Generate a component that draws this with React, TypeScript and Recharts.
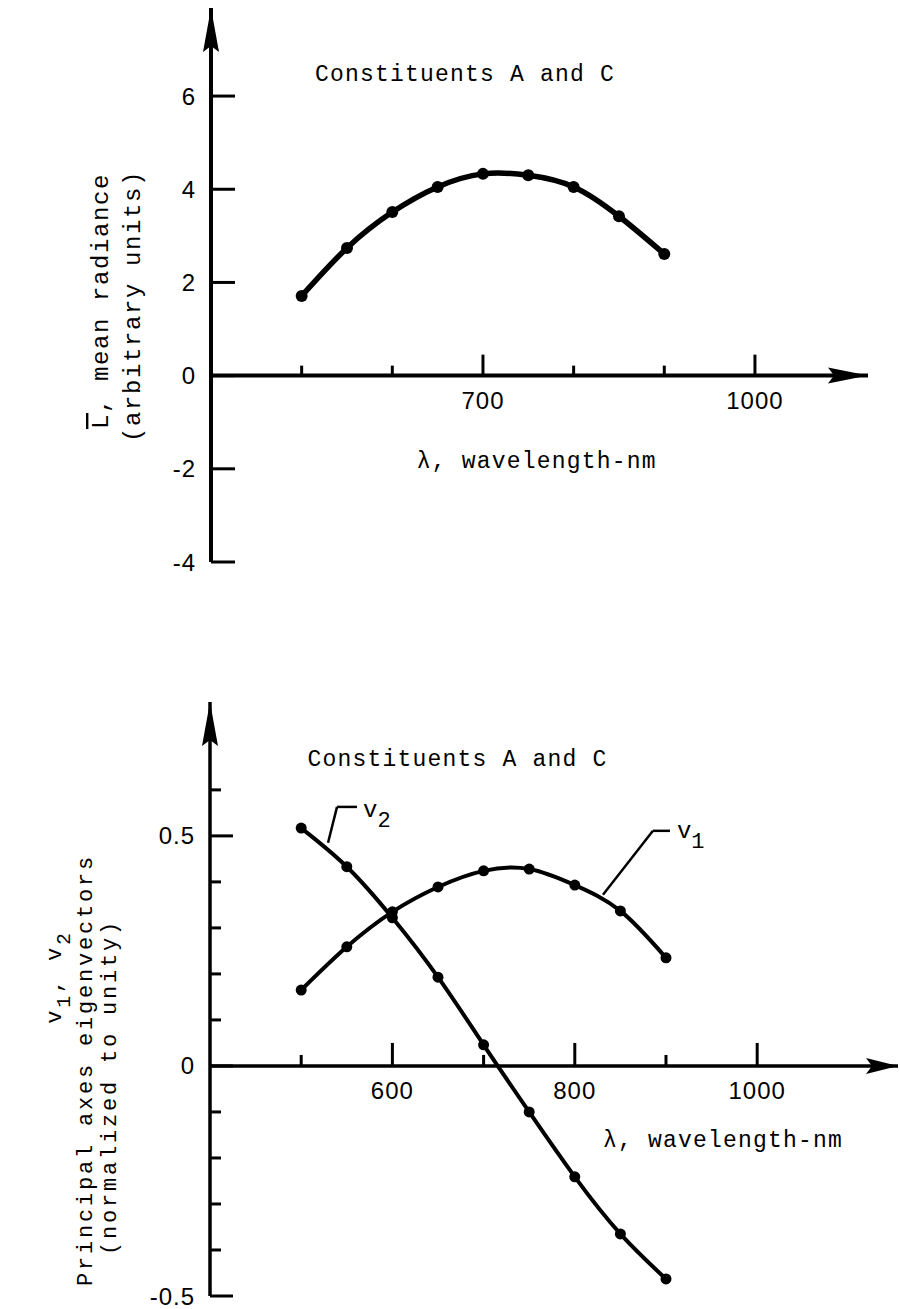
import React from "react";
import { LineChart, Line, XAxis, YAxis, ReferenceLine, ReferenceDot } from "recharts";

const wavelengths = [500, 550, 600, 650, 700, 750, 800, 850, 900];
const meanRadiance = [1.71, 2.74, 3.51, 4.05, 4.33, 4.3, 4.05, 3.42, 2.61];
const v1Values = [0.165, 0.259, 0.335, 0.389, 0.424, 0.428, 0.393, 0.337, 0.235];
const v2Values = [0.517, 0.433, 0.322, 0.193, 0.046, -0.1, -0.241, -0.365, -0.463];

const topYTicks = [-4, -2, 0, 2, 4, 6];
const topXTicks = [500, 600, 700, 800, 900, 1000];
const topXLabels = [700, 1000];
const bottomYTicks = [-0.5, -0.4, -0.3, -0.2, -0.1, 0, 0.1, 0.2, 0.3, 0.4, 0.5, 0.6];
const bottomYLabels = [-0.5, 0, 0.5];
const bottomXTicks = [500, 600, 700, 800, 900, 1000];
const bottomXLabels = [600, 800, 1000];

const topData = wavelengths.map((w, i) => ({ w, L: meanRadiance[i] }));
const bottomData = wavelengths.map((w, i) => ({ w, v1: v1Values[i], v2: v2Values[i] }));

const MONO = '"Liberation Mono", "DejaVu Sans Mono", monospace';
const SANS = '"Liberation Sans", Arial, sans-serif';
const has = (arr: number[], v: number) => arr.some((a) => Math.abs(a - v) < 1e-9);

// y ticks drawn inside the axis (to the right), label on the left
const yTick = (labels: number[], major: number, minor: number, sw: number) => (p: any) => {
  const v = p.payload.value;
  const lab = has(labels, v);
  return (
    <g>
      <line x1={p.x} x2={p.x + (lab ? major : minor)} y1={p.y} y2={p.y} stroke="#000" strokeWidth={sw} />
      {lab && (
        <text x={p.x - 15} y={p.y} textAnchor="end" dominantBaseline="central"
          fontFamily={SANS} fontSize={24} letterSpacing={1} fill="#000">
          {v < 0 ? "-" + Math.abs(v) : String(v)}
        </text>
      )}
    </g>
  );
};

// x ticks sit on the y=0 line, pointing up
const xTick = (len: number, label: string | null, sw: number) => (p: any) => (
  <g>
    <line x1={p.cx} x2={p.cx} y1={p.cy} y2={p.cy - len} stroke="#000" strokeWidth={sw} />
    {label && (
      <text x={p.cx} y={p.cy + 25} textAnchor="middle" dominantBaseline="central"
        fontFamily={SANS} fontSize={24} letterSpacing={1} fill="#000">
        {label}
      </text>
    )}
  </g>
);

const arrowRight = (len: number, half: number) => (p: any) => (
  <polygon points={`${p.cx},${p.cy} ${p.cx - len},${p.cy - half} ${p.cx - len + 6},${p.cy} ${p.cx - len},${p.cy + half}`} fill="#000" />
);
const arrowUp = (len: number, half: number) => (p: any) => (
  <polygon points={`${p.cx},${p.cy} ${p.cx - half},${p.cy + len} ${p.cx},${p.cy + len - 6} ${p.cx + half},${p.cy + len}`} fill="#000" />
);

const textAt = (content: React.ReactNode, size = 24, spacing = 1.4) => (p: any) => (
  <text x={p.cx} y={p.cy} dominantBaseline="central" fontFamily={MONO} fontSize={size}
    letterSpacing={spacing} fill="#000">
    {content}
  </text>
);

const vLabel = (sub: string) => (p: any) => (
  <text x={p.cx} y={p.cy} fontFamily={MONO} fontSize={24} fill="#000">
    v<tspan dy={10} fontSize={22}>{sub}</tspan>
  </text>
);

const TopYLabel = (props: any) => {
  const vb = props.viewBox;
  const ax = vb.x + vb.width;
  const cy = vb.y + 293;
  return (
    <g fontFamily={MONO} fontSize={24} letterSpacing={1.6} fill="#000">
      <text transform={`translate(${ax - 103},${cy}) rotate(-90)`} textAnchor="middle">
        <tspan textDecoration="overline">L</tspan>, mean radiance
      </text>
      <text transform={`translate(${ax - 71},${cy + 5}) rotate(-90)`} textAnchor="middle">(arbitrary units)</text>
    </g>
  );
};

const BottomYLabel = (props: any) => {
  const vb = props.viewBox;
  const ax = vb.x + vb.width;
  const top = vb.y; // plot top
  return (
    <g fontFamily={MONO} fontSize={22} letterSpacing={2.8} fill="#000">
      <text transform={`translate(${ax - 149},${top + 275}) rotate(-90)`} textAnchor="middle">
        v<tspan dy={9} fontSize={20}>1</tspan><tspan dy={-9}>, v</tspan><tspan dy={9} fontSize={20}>2</tspan>
      </text>
      <text transform={`translate(${ax - 118},${top + 368}) rotate(-90)`} textAnchor="middle">Principal axes eigenvectors</text>
      <text transform={`translate(${ax - 94},${top + 385}) rotate(-90)`} textAnchor="middle">(normalized to unity)</text>
    </g>
  );
};

export default function App() {
  return (
    <div style={{ position: "absolute", left: 0, top: 0, width: 900, height: 1309, background: "#fff" }}>
      <div style={{ position: "absolute", left: 0, top: 0 }}>
        <LineChart width={900} height={620} data={topData} margin={{ top: 8, right: 32, bottom: 58, left: 151 }}>
          <XAxis type="number" dataKey="w" domain={[400, 1124.7]} hide allowDataOverflow />
          <YAxis type="number" width={60} domain={[-4, 7.89]} ticks={topYTicks} interval={0}
            tickSize={0} tickMargin={0} tickLine={false} allowDataOverflow
            axisLine={{ stroke: "#000", strokeWidth: 4 }} tick={yTick(topYTicks, 24, 24, 3)}
            label={{ content: TopYLabel }} />
          <ReferenceLine y={0} stroke="#000" strokeWidth={4} />
          {topXTicks.map((t) => (
            <ReferenceDot key={t} x={t} y={0} ifOverflow="visible"
              shape={xTick(has(topXLabels, t) ? 21 : 10, has(topXLabels, t) ? String(t) : null, 3)} />
          ))}
          <ReferenceDot x={1124.7} y={0} ifOverflow="visible" shape={arrowRight(40, 8)} />
          <ReferenceDot x={400} y={7.89} ifOverflow="visible" shape={arrowUp(44, 8)} />
          <ReferenceDot x={514.7} y={6.45} ifOverflow="visible" shape={textAt("Constituents A and C", 23, 1.2)} />
          <ReferenceDot x={627} y={-1.86} ifOverflow="visible" shape={textAt("\u03bb, wavelength-nm", 23, 1.2)} />
          <Line dataKey="L" type="natural" stroke="#000" strokeWidth={5.5} isAnimationActive={false}
            dot={{ r: 6, fill: "#000", stroke: "#000", strokeWidth: 0 }} />
        </LineChart>
      </div>
      <div style={{ position: "absolute", left: 0, top: 640 }}>
        <LineChart width={900} height={669} data={bottomData} margin={{ top: 62, right: 2, bottom: 13, left: 150 }}>
          <XAxis type="number" dataKey="w" domain={[400, 1154.4]} hide allowDataOverflow />
          <YAxis type="number" width={60} domain={[-0.5, 0.791]} ticks={bottomYTicks} interval={0}
            tickSize={0} tickMargin={0} tickLine={false} allowDataOverflow
            axisLine={{ stroke: "#000", strokeWidth: 3.5 }} tick={yTick(bottomYLabels, 23, 11, 3)}
            label={{ content: BottomYLabel }} />
          <ReferenceLine y={0} stroke="#000" strokeWidth={3.5} />
          {bottomXTicks.map((t) => (
            <ReferenceDot key={t} x={t} y={0} ifOverflow="visible"
              shape={xTick(has(bottomXLabels, t) ? 23 : 11, has(bottomXLabels, t) ? String(t) : null, 3)} />
          ))}
          <ReferenceDot x={1154.4} y={0} ifOverflow="visible" shape={arrowRight(32, 8)} />
          <ReferenceDot x={400} y={0.791} ifOverflow="visible" shape={arrowUp(44, 8)} />
          <ReferenceDot x={507} y={0.665} ifOverflow="visible" shape={textAt("Constituents A and C", 23, 1.2)} />
          <ReferenceDot x={831} y={-0.163} ifOverflow="visible" shape={textAt("\u03bb, wavelength-nm", 23, 1.2)} />
          <ReferenceLine segment={[{ x: 529.4, y: 0.485 }, { x: 539.3, y: 0.563 }]} stroke="#000" strokeWidth={2.5} />
          <ReferenceLine segment={[{ x: 539.3, y: 0.563 }, { x: 561.2, y: 0.563 }]} stroke="#000" strokeWidth={2.5} />
          <ReferenceDot x={567.8} y={0.541} ifOverflow="visible" shape={vLabel("2")} />
          <ReferenceLine segment={[{ x: 830.9, y: 0.372 }, { x: 885.7, y: 0.511 }]} stroke="#000" strokeWidth={2.5} />
          <ReferenceLine segment={[{ x: 885.7, y: 0.511 }, { x: 904.4, y: 0.511 }]} stroke="#000" strokeWidth={2.5} />
          <ReferenceDot x={912} y={0.496} ifOverflow="visible" shape={vLabel("1")} />
          <Line dataKey="v1" type="natural" stroke="#000" strokeWidth={4} isAnimationActive={false}
            dot={{ r: 5.5, fill: "#000", stroke: "#000", strokeWidth: 0 }} />
          <Line dataKey="v2" type="natural" stroke="#000" strokeWidth={4} isAnimationActive={false}
            dot={{ r: 5.5, fill: "#000", stroke: "#000", strokeWidth: 0 }} />
        </LineChart>
      </div>
    </div>
  );
}
